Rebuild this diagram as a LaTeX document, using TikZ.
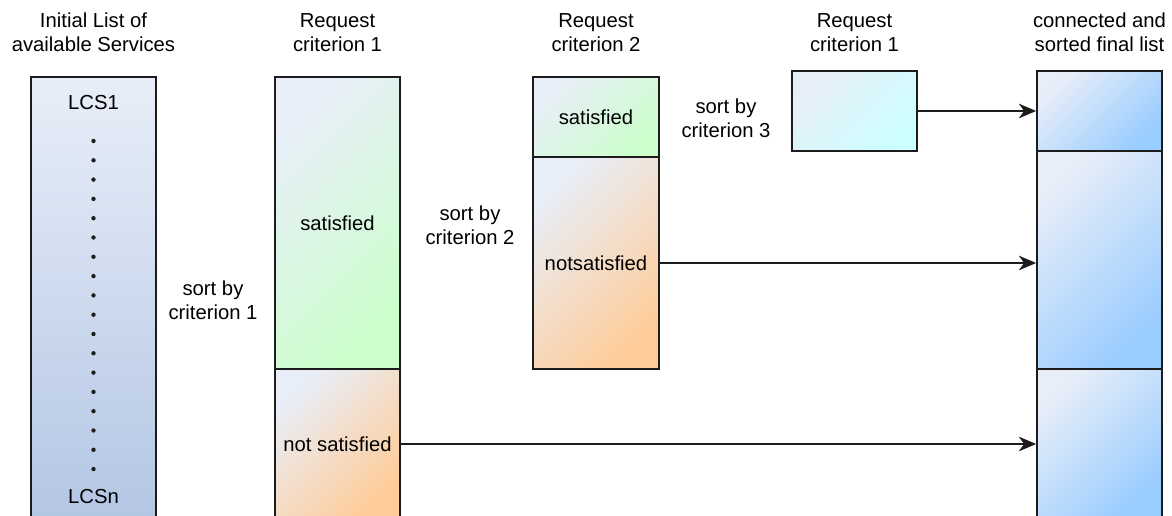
\documentclass[tikz,border=0pt]{standalone}
\usepackage{fontspec}
\setmainfont{Liberation Sans}
\usetikzlibrary{arrows.meta,fit}
\definecolor{edge}{HTML}{1C1C1C}
\definecolor{pale}{HTML}{E8EEF8}
\definecolor{listbot}{HTML}{B3C6E4}
\definecolor{okgreen}{HTML}{CCFFCC}
\definecolor{nookorange}{HTML}{FFCC99}
\definecolor{resultcyan}{HTML}{CCFFFF}
\definecolor{finalblue}{HTML}{99CCFF}
\tikzset{
  plain/.style={font=\fontsize{15.2}{18}\selectfont, inner sep=0pt},
  txt/.style={plain, align=center},
  box/.style={draw=edge, line width=1.3pt, inner sep=0pt},
  diag/.style={box, top color=pale, bottom color=#1, shading angle=45},
  listbox/.style={box, top color=pale, bottom color=listbot},
  arr/.style={draw=edge, line width=1.3pt, -{Stealth[length=13pt,width=11pt,inset=4pt]}},
  hdr/.style={txt, anchor=base},
  item/.style={plain, anchor=base}
}
\begin{document}
\begin{tikzpicture}[x=0.75pt, y=-0.75pt]
  \useasboundingbox (0,0) rectangle (1172,516);
  \clip (0,0) rectangle (1172,516);

  % column headings (base anchor sits on the last line)
  \node[hdr] (h0) at (93.5,52)  {Initial List of\\available Services};
  \node[hdr] (h1) at (337.5,52) {Request\\criterion 1};
  \node[hdr] (h2) at (596,52)   {Request\\criterion 2};
  \node[hdr] (h3) at (854.5,52) {Request\\criterion 1};
  \node[hdr] (h4) at (1099.5,52) {connected and\\sorted final list};

  % initial list of services
  \node[listbox, fit={(31,77) (156,519)}] (lcs) {};
  \node[item] (lcsa) at (93.5,110) {LCS1};
  \node[item] (lcsb) at (93.5,504) {LCSn};
  \foreach \i in {0,...,17}
    \fill[edge] (93.5,141+19.3*\i) circle (2.2);

  % criterion 1 split
  \node[diag=okgreen,    fit={(275,77) (400,369)}]  (c1s) {};
  \node[diag=nookorange, fit={(275,369) (400,519)}] (c1n) {};
  \node[plain] (c1st) at (c1s.center) {satisfied};
  \node[plain] (c1nt) at (c1n.center) {not satisfied};

  % criterion 2 split
  \node[diag=okgreen,    fit={(533,77) (659,157)}]  (c2s) {};
  \node[diag=nookorange, fit={(533,157) (659,369)}] (c2n) {};
  \node[plain] (c2st) at (c2s.center) {satisfied};
  \node[plain] (c2nt) at (c2n.center) {notsatisfied};

  % criterion 3 result
  \node[diag=resultcyan, fit={(792,71) (917,151)}] (c3) {};

  % final list
  \node[diag=finalblue, fit={(1037,71) (1162,151)}]  (f1) {};
  \node[diag=finalblue, fit={(1037,151) (1162,369)}] (f2) {};
  \node[diag=finalblue, fit={(1037,369) (1162,519)}] (f3) {};

  % sorting steps
  \node[hdr] (s1) at (213,320) {sort by\\criterion 1};
  \node[hdr] (s2) at (470,245) {sort by\\criterion 2};
  \node[hdr] (s3) at (726,138) {sort by\\criterion 3};

  % hand-over into the final list
  \draw[arr] (c3.east)  -- (c3.east -| f1.west);
  \draw[arr] (c2n.east) -- (c2n.east -| f2.west);
  \draw[arr] (c1n.east) -- (c1n.east -| f3.west);
\end{tikzpicture}
\end{document}
